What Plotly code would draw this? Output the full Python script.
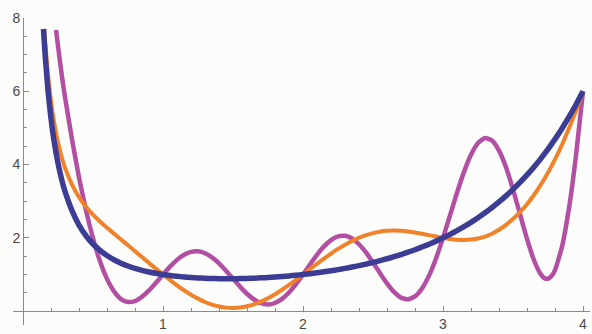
import plotly.graph_objects as go

# Gamma function (blue) and two other curves through the factorial points
gamma_x = [0.146, 0.16, 0.18, 0.2, 0.22, 0.25, 0.28, 0.3, 0.35, 0.4, 0.45, 0.5, 0.55, 0.6,
           0.65, 0.7, 0.75, 0.8, 0.85, 0.9, 0.95, 1.0, 1.05, 1.1, 1.15, 1.2, 1.25, 1.3,
           1.35, 1.4, 1.45, 1.5, 1.55, 1.6, 1.65, 1.7, 1.75, 1.8, 1.85, 1.9, 1.95, 2.0,
           2.05, 2.1, 2.15, 2.2, 2.25, 2.3, 2.35, 2.4, 2.45, 2.5, 2.55, 2.6, 2.65, 2.7,
           2.75, 2.8, 2.85, 2.9, 2.95, 3.0, 3.05, 3.1, 3.15, 3.2, 3.25, 3.3, 3.35, 3.4,
           3.45, 3.5, 3.55, 3.6, 3.65, 3.7, 3.75, 3.8, 3.85, 3.9, 3.95, 4.0]
gamma_y = [7.70, 6.891, 5.968, 5.256, 4.690, 4.035, 3.536, 3.266, 2.742, 2.349, 2.057, 1.833,
           1.658, 1.517, 1.403, 1.310, 1.232, 1.167, 1.1125, 1.069, 1.032, 1.0, 0.9735,
           0.9514, 0.9330, 0.9182, 0.9064, 0.8975, 0.8912, 0.8873, 0.8857, 0.8862, 0.8889,
           0.8935, 0.9001, 0.9086, 0.9191, 0.9314, 0.9456, 0.9618, 0.9799, 1.0, 1.0222,
           1.0465, 1.0730, 1.1018, 1.1330, 1.1667, 1.2031, 1.2422, 1.2842, 1.3293, 1.3777,
           1.4296, 1.4852, 1.5447, 1.6084, 1.6765, 1.7494, 1.8274, 1.9108, 2.0, 2.0955,
           2.1976, 2.3070, 2.4240, 2.5493, 2.6834, 2.8273, 2.9812, 3.1463, 3.3234, 3.5131,
           3.7170, 3.9358, 4.1707, 4.4231, 4.6942, 4.9858, 5.2993, 5.6369, 6.0]

orange_x = [0.152, 0.16, 0.18, 0.2, 0.22, 0.25, 0.28, 0.3, 0.35, 0.4, 0.45, 0.5, 0.55, 0.6,
            0.65, 0.7, 0.75, 0.8, 0.85, 0.9, 0.95, 1.0, 1.05, 1.1, 1.15, 1.2, 1.25, 1.3,
            1.35, 1.4, 1.45, 1.5, 1.55, 1.6, 1.65, 1.7, 1.75, 1.8, 1.85, 1.9, 1.95, 2.0,
            2.05, 2.1, 2.15, 2.2, 2.25, 2.3, 2.35, 2.4, 2.45, 2.5, 2.55, 2.6, 2.65, 2.7,
            2.75, 2.8, 2.85, 2.9, 2.95, 3.0, 3.05, 3.1, 3.15, 3.2, 3.25, 3.3, 3.35, 3.4,
            3.45, 3.5, 3.55, 3.6, 3.65, 3.7, 3.75, 3.8, 3.85, 3.9, 3.95, 4.0]
orange_y = [7.70, 7.277, 6.397, 5.726, 5.200, 4.601, 4.152, 3.913, 3.455, 3.110, 2.847, 2.633,
            2.448, 2.278, 2.116, 1.957, 1.798, 1.637, 1.476, 1.316, 1.157, 1.0, 0.849,
            0.704, 0.570, 0.448, 0.341, 0.250, 0.178, 0.126, 0.096, 0.086, 0.099, 0.133,
            0.187, 0.261, 0.353, 0.461, 0.583, 0.715, 0.855, 1.0, 1.147, 1.294, 1.436,
            1.572, 1.699, 1.814, 1.916, 2.003, 2.074, 2.129, 2.168, 2.191, 2.198, 2.192,
            2.174, 2.147, 2.112, 2.074, 2.036, 2.0, 1.970, 1.950, 1.944, 1.954, 1.984,
            2.036, 2.114, 2.220, 2.356, 2.515, 2.700, 2.920, 3.170, 3.460, 3.780, 4.140,
            4.540, 4.990, 5.470, 6.0]

magenta_x = [0.236, 0.26, 0.28, 0.3, 0.35, 0.4, 0.45, 0.5, 0.55, 0.6, 0.65, 0.7, 0.75, 0.8,
             0.85, 0.9, 0.95, 1.0, 1.05, 1.1, 1.15, 1.2, 1.25, 1.3, 1.35, 1.4, 1.45, 1.5,
             1.55, 1.6, 1.65, 1.7, 1.75, 1.8, 1.85, 1.9, 1.95, 2.0, 2.05, 2.1, 2.15, 2.2,
             2.25, 2.3, 2.35, 2.4, 2.45, 2.5, 2.55, 2.6, 2.65, 2.7, 2.75, 2.8, 2.85, 2.9,
             2.95, 3.0, 3.05, 3.1, 3.15, 3.2, 3.25, 3.3, 3.35, 3.4, 3.45, 3.5, 3.55, 3.6,
             3.65, 3.7, 3.725, 3.75, 3.775, 3.8, 3.85, 3.9, 3.95, 4.0]
magenta_y = [7.67, 6.93, 6.36, 5.84, 4.69, 3.65, 2.75, 1.99, 1.36, 0.88, 0.54, 0.33, 0.25,
             0.275, 0.393, 0.566, 0.777, 1.0, 1.214, 1.399, 1.537, 1.617, 1.632, 1.580,
             1.468, 1.304, 1.105, 0.886, 0.669, 0.474, 0.318, 0.217, 0.184, 0.223, 0.334,
             0.510, 0.738, 1.0, 1.275, 1.538, 1.767, 1.940, 2.039, 2.055, 1.982, 1.826,
             1.601, 1.329, 1.037, 0.758, 0.524, 0.369, 0.322, 0.401, 0.617, 0.969, 1.439,
             2.0, 2.612, 3.231, 3.801, 4.269, 4.589, 4.726, 4.657, 4.382, 3.925, 3.323,
             2.646, 1.970, 1.389, 0.997, 0.901, 0.885, 0.956, 1.122, 1.760, 2.809, 4.245, 6.0]

x_ticks = [1, 2, 3, 4]
y_ticks = [2, 4, 6, 8]

X_RANGE = [-0.0714, 4.05]
Y_RANGE = [-0.378, 8.0]

AXIS_COLOR = "#8a8a8a"
LABEL_FONT = dict(family="Liberation Sans, Arial, sans-serif", size=14, color="#4a4a4a")

fig = go.Figure()
# drawing order: magenta underneath, orange, gamma on top
fig.add_trace(go.Scatter(x=magenta_x, y=magenta_y, mode="lines",
                         line=dict(color="#b24fa3", width=4.5, shape="spline", smoothing=0.5)))
fig.add_trace(go.Scatter(x=orange_x, y=orange_y, mode="lines",
                         line=dict(color="#f0822a", width=4, shape="spline", smoothing=0.5)))
fig.add_trace(go.Scatter(x=gamma_x, y=gamma_y, mode="lines",
                         line=dict(color="#3c3c94", width=5.5, shape="spline", smoothing=0.5)))

# axes cross at the origin, as in a mathematical plot
x_axis_pos = (0 - Y_RANGE[0]) / (Y_RANGE[1] - Y_RANGE[0])
y_axis_pos = (0 - X_RANGE[0]) / (X_RANGE[1] - X_RANGE[0])

fig.update_layout(
    width=592, height=334,
    margin=dict(l=13, r=2, t=18, b=6),
    paper_bgcolor="#fcfcfa", plot_bgcolor="#fcfcfa",
    showlegend=False,
    xaxis=dict(range=X_RANGE, showgrid=False, zeroline=False,
               showline=True, linecolor=AXIS_COLOR, linewidth=1,
               anchor="free", position=x_axis_pos,
               tickmode="array", tickvals=x_ticks,
               ticks="inside", ticklen=5, tickwidth=1, tickcolor=AXIS_COLOR,
               minor=dict(tickmode="linear", tick0=0, dtick=0.2, ticks="inside",
                          ticklen=3, tickwidth=1, tickcolor=AXIS_COLOR),
               tickfont=LABEL_FONT, fixedrange=True),
    yaxis=dict(range=Y_RANGE, showgrid=False, zeroline=False,
               showline=True, linecolor=AXIS_COLOR, linewidth=1,
               anchor="free", position=y_axis_pos,
               tickmode="array", tickvals=y_ticks,
               ticks="inside", ticklen=5, tickwidth=1, tickcolor=AXIS_COLOR,
               minor=dict(tickmode="linear", tick0=0, dtick=0.5, ticks="inside",
                          ticklen=3, tickwidth=1, tickcolor=AXIS_COLOR),
               tickfont=LABEL_FONT, fixedrange=True),
)

fig.write_html("out.html")
